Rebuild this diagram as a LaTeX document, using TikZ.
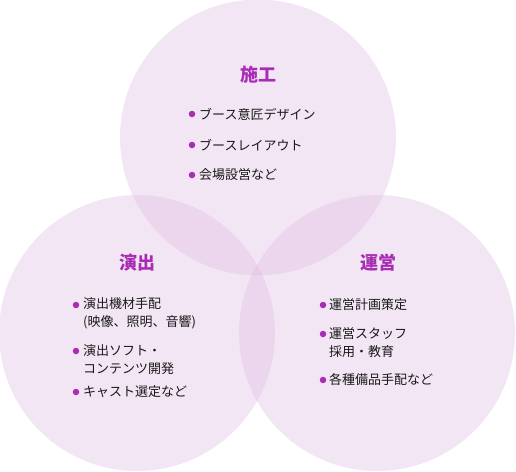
\documentclass[tikz,border=0pt]{standalone}
\usepackage{fontspec}
\setmainfont{Noto Sans CJK JP}
\usetikzlibrary{positioning}

\definecolor{ringpink}{RGB}{219,180,222}
\definecolor{headpurple}{RGB}{168,44,180}
\definecolor{textgray}{RGB}{24,24,24}

\begin{document}
\begin{tikzpicture}[
    x=1pt, y=-1pt,
    ring/.style={circle, fill=ringpink, fill opacity=0.33, minimum size=276pt, inner sep=0pt},
    heading/.style={font=\fontsize{18}{18}\selectfont\bfseries, text=headpurple},
    entry/.style={anchor=west, align=left, inner sep=0pt, text=textgray, font=\fontsize{13}{18}\selectfont},
    dot/.style={circle, fill=headpurple, minimum size=6.5pt, inner sep=0pt}
]
\useasboundingbox (0,0) rectangle (516,471);

% three rings
\node[ring] (sekou) at (258,137.5) {};
\node[ring] (enshutsu) at (137,333) {};
\node[ring] (unei) at (377,333) {};

% top ring
\node[heading] (sekouhead) at (258,75) {施工};
\node[dot] (s1) at (192,114) {};
\node[dot] (s2) at (192,145) {};
\node[dot] (s3) at (192,175) {};
\node[entry] (s1t) at (199,114) {ブース意匠デザイン};
\node[entry] (s2t) at (199,145) {ブースレイアウト};
\node[entry] (s3t) at (199,175) {会場設営など};

% left ring
\node[heading] (enshutsuhead) at (137,263) {演出};
\node[dot] (e1) at (76,305) {};
\node[dot] (e2) at (76,351) {};
\node[dot] (e3) at (76,392) {};
\node[entry] (e1t) at (83,313.5) {演出機材手配\\(映像、照明、音響)};
\node[entry] (e2t) at (83,360) {演出ソフト・\\コンテンツ開発};
\node[entry] (e3t) at (83,392) {キャスト選定など};

% right ring
\node[heading] (ueihead) at (378,263) {運営};
\node[dot] (u1) at (323,305) {};
\node[dot] (u2) at (323,334) {};
\node[dot] (u3) at (323,380) {};
\node[entry] (u1t) at (329,305) {運営計画策定};
\node[entry] (u2t) at (329,343) {運営スタッフ\\採用・教育};
\node[entry] (u3t) at (329,380) {各種備品手配など};
\end{tikzpicture}
\end{document}
